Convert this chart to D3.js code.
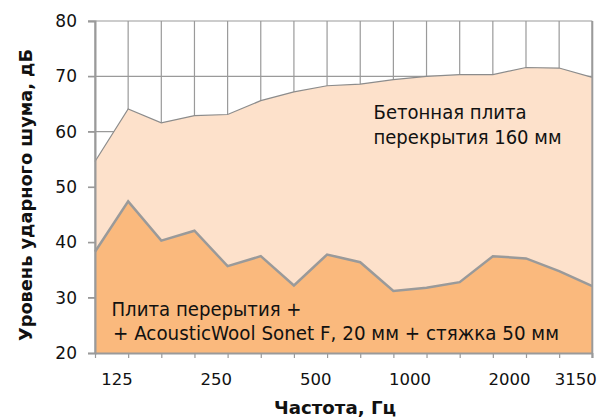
<!DOCTYPE html>
<html><head><meta charset="utf-8">
<script src="https://cdn.jsdelivr.net/npm/d3@7"></script>
<style>
html,body{margin:0;padding:0;background:#fff;}
svg{display:block;}
text{font-family:"DejaVu Sans",Verdana,sans-serif;fill:#111;}
</style></head>
<body>
<svg id="c" width="598" height="419"></svg>
<script>
const freqs = ["100","125","160","200","250","315","400","500","630","800","1000","1250","1600","2000","2500","3150"];
const shownLabels = ["125","250","500","1000","2000","3150"];
const yTicks = [20,30,40,50,60,70,80];
const concrete = [54.6,64.1,61.6,62.9,63.1,65.6,67.2,68.3,68.6,69.4,70.0,70.3,70.3,71.6,71.5,69.8];
const withWool = [38.3,47.4,40.3,42.1,35.7,37.5,32.2,37.8,36.4,31.2,31.8,32.8,37.5,37.1,34.8,32.1];
const labelConcrete = ["Бетонная плита","перекрытия 160 мм"];
const labelWool = ["Плита перерытия +","+ AcousticWool Sonet F, 20 мм + стяжка 50 мм"];
const xTitle = "Частота, Гц";
const yTitle = "Уровень ударного шума, дБ";

const svg = d3.select("#c");
const L = 95, R = 592.3, T = 21, B = 353;
const x = d3.scalePoint().domain(freqs).range([L, R]);
const y = d3.scaleLinear().domain([20, 80]).range([B, T]);
const grid = "#9a9a9a";

// gridlines
const g = svg.append("g");
g.selectAll("line.h").data(yTicks.filter(v=>v>20)).join("line")
  .attr("x1", L-7).attr("x2", R).attr("y1", d=>y(d)).attr("y2", d=>y(d))
  .attr("stroke", grid).attr("stroke-width", 1.2);
g.selectAll("line.v").data(freqs).join("line")
  .attr("x1", d=>x(d)).attr("x2", d=>x(d)).attr("y1", T).attr("y2", B)
  .attr("stroke", grid).attr("stroke-width", 1.2);

// areas
const areaC = d3.area().x((d,i)=>x(freqs[i])).y0(y(20)).y1(d=>y(d));
const lineC = d3.line().x((d,i)=>x(freqs[i])).y(d=>y(d));
svg.append("path").attr("d", areaC(concrete)).attr("fill", "#fde1cb");
svg.append("path").attr("d", lineC(concrete)).attr("fill","none").attr("stroke","#8c8c8c").attr("stroke-width",1.2);
svg.append("path").attr("d", areaC(withWool)).attr("fill", "#fab97d");
svg.append("path").attr("d", lineC(withWool)).attr("fill","none").attr("stroke","#9a9a9a").attr("stroke-width",2.5);

// axes
const yAxis = svg.append("g").attr("transform", `translate(${L},0)`)
  .call(d3.axisLeft(y).tickValues(yTicks).tickSize(7).tickPadding(11));
yAxis.select(".domain").attr("stroke", grid).attr("stroke-width", 2);
yAxis.selectAll(".tick line").attr("stroke", grid).attr("stroke-width", 1.2);
yAxis.selectAll(".tick text").attr("font-size", 17).attr("font-family","DejaVu Sans").attr("fill","#111");

const xAxis = svg.append("g").attr("transform", `translate(0,${B})`)
  .call(d3.axisBottom(x).tickValues(freqs).tickSize(5).tickSizeOuter(0)
    .tickFormat(d => shownLabels.includes(d) ? d : ""));
xAxis.select(".domain").attr("stroke", grid).attr("stroke-width", 2);
xAxis.selectAll(".tick line").attr("stroke", grid).attr("stroke-width", 1.2);
xAxis.selectAll(".tick text").attr("font-size", 16.5).attr("font-family","DejaVu Sans").attr("fill","#111")
  .attr("text-anchor","end").attr("x", 4).attr("y", 0).attr("dy", 0)
  .attr("transform","translate(0,32)");

// right border
svg.append("line").attr("x1", R).attr("x2", R).attr("y1", T).attr("y2", B+5)
  .attr("stroke", grid).attr("stroke-width", 2);

// annotations
function fitText(sel, w){ sel.attr("textLength", w).attr("lengthAdjust","spacingAndGlyphs"); }
svg.append("text").attr("x", 373.5).attr("y", 119).attr("font-size", 20).text(labelConcrete[0]).call(fitText, 153);
svg.append("text").attr("x", 373.5).attr("y", 143.5).attr("font-size", 20).text(labelConcrete[1]).call(fitText, 188);
svg.append("text").attr("x", 111.5).attr("y", 316).attr("font-size", 20).text(labelWool[0]).call(fitText, 190);
svg.append("text").attr("x", 113).attr("y", 340).attr("font-size", 19.5).text(labelWool[1]).call(fitText, 446);

// titles
svg.append("text").attr("x", 335).attr("y", 414).attr("text-anchor","middle")
  .attr("font-size", 18).attr("font-weight","bold").text(xTitle).call(fitText, 122);
svg.append("text").attr("transform","translate(32,195) rotate(-90)").attr("text-anchor","middle")
  .attr("font-size", 18).attr("font-weight","bold").text(yTitle).call(fitText, 292);
</script>
</body></html>
